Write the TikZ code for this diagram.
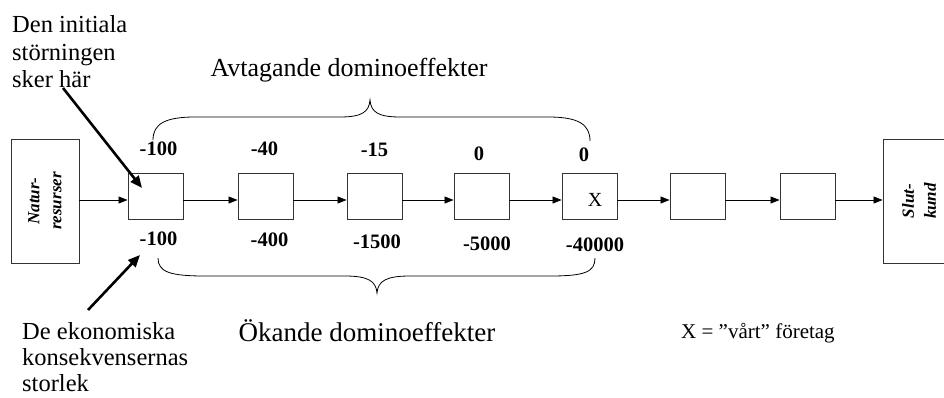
\documentclass[tikz,border=0pt]{standalone}
\usepackage{fontspec}
\setmainfont{Liberation Serif}
\usetikzlibrary{arrows.meta}
\begin{document}
\begin{tikzpicture}[x=1pt,y=-1pt,
 box/.style={draw=black!80, line width=0.9pt, minimum width=55pt, minimum height=46pt, inner sep=0pt},
 bigbox/.style={draw=black!80, line width=0.9pt, minimum width=68pt, minimum height=124pt, inner sep=0pt},
 flow/.style={-{Triangle[length=9pt,width=7pt]}, line width=0.8pt},
 pointer/.style={-{Triangle[length=12pt,width=10pt]}, line width=2.6pt},
 num/.style={font=\fontsize{20.5}{24}\selectfont\bfseries, inner sep=0pt},
 side/.style={font=\fontsize{24.5}{27.5}\selectfont, align=left, inner sep=0pt, anchor=north west},
 title/.style={font=\fontsize{26}{30}\selectfont, inner sep=0pt, anchor=base},
 vlabel/.style={font=\fontsize{17}{22}\selectfont\bfseries\itshape, rotate=90, align=center, inner sep=0pt},
 brace/.style={line width=0.8pt}
]
\useasboundingbox (0,0) rectangle (944,398);

% end boxes
\node[bigbox] (nr) at (45,201) {};
\node[vlabel] (nrtext) at (nr.center) {Natur-\\resurser};
\node[bigbox] (sk) at (917,201) {};
\node[vlabel] (sktext) at ([xshift=2pt]sk.center) {Slut-\\kund};

% chain boxes
\node[box] (b1) at (155.5,196) {};
\node[box] (b2) at (265.5,196) {};
\node[box] (b3) at (374.5,196) {};
\node[box] (b4) at (481.5,196) {};
\node[box] (b5) at (589.5,196) {};
\node[box] (b6) at (697.5,196) {};
\node[box] (b7) at (807.5,196) {};
\node[font=\fontsize{20}{24}\selectfont, inner sep=0pt] (xmark) at (595,200) {X};

% flow arrows
\draw[flow] ([yshift=1pt]nr.east) -- ([yshift=-4pt]b1.west);
\draw[flow] ([yshift=-4pt]b1.east) -- ([yshift=-4pt]b2.west);
\draw[flow] ([yshift=-4pt]b2.east) -- ([yshift=-4pt]b3.west);
\draw[flow] ([yshift=-4pt]b3.east) -- ([yshift=-4pt]b4.west);
\draw[flow] ([yshift=-4pt]b4.east) -- ([yshift=-4pt]b5.west);
\draw[flow] ([yshift=-4pt]b5.east) -- ([yshift=-4pt]b6.west);
\draw[flow] ([yshift=-4pt]b6.east) -- ([yshift=-4pt]b7.west);
\draw[flow] ([yshift=-4pt]b7.east) -- ([yshift=1pt]sk.west);

% numbers above
\node[num] (t1) at (158.5,148.5) {-100};
\node[num] (t2) at (264.5,149) {-40};
\node[num] (t3) at (374.5,150) {-15};
\node[num] (t4) at (479,153.5) {0};
\node[num] (t5) at (584,155) {0};
% numbers below
\node[num] (u1) at (158.5,238.5) {-100};
\node[num] (u2) at (269.5,240) {-400};
\node[num] (u3) at (377,242) {-1500};
\node[num] (u4) at (487,244) {-5000};
\node[num] (u5) at (595,245) {-40000};

% braces
\draw[brace] (153,140) .. controls (153,124) and (165,117) .. (195,117) -- (340,117)
  .. controls (362,117) and (369,112) .. (370,100)
  .. controls (371,112) and (378,117) .. (400,117) -- (548,117)
  .. controls (578,117) and (590,124) .. (590,141);
\draw[brace] (158,258) .. controls (158,272) and (170,276) .. (205,276) -- (345,276)
  .. controls (368,276) and (376,281) .. (377,293)
  .. controls (378,281) and (386,276) .. (410,276) -- (550,276)
  .. controls (585,276) and (595,272) .. (595,258);

% titles
\node[title] (avt) at (349,77) {Avtagande dominoeffekter};
\node[title, font=\fontsize{27}{30}\selectfont] (oka) at (367,341) {Ökande dominoeffekter};

% side texts
\node[side] (init) at (12,15.5) {Den initiala\\störningen\\sker här};
\node[side, font=\fontsize{24.5}{26}\selectfont] (kons) at (22,322) {De ekonomiska\\konsekvensernas\\storlek};
\node[font=\fontsize{21}{24}\selectfont, inner sep=0pt, anchor=base west] (legend) at (681,338) {X = ”vårt” företag};

% pointers
\coordinate (p1s) at (63,88);
\coordinate (p1e) at (142,188);
\coordinate (p2s) at (88,310);
\coordinate (p2e) at (140,255);
\draw[pointer] (p1s) -- (p1e);
\draw[pointer] (p2s) -- (p2e);
\end{tikzpicture}
\end{document}
